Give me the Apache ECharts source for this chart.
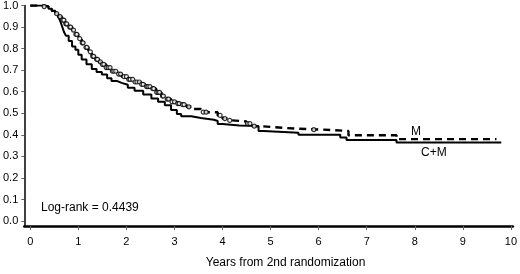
<!DOCTYPE html>
<html>
<head>
<meta charset="utf-8">
<script src="https://cdn.jsdelivr.net/npm/echarts@6/dist/echarts.min.js"></script>
<style>
html,body{margin:0;padding:0;background:#fff;}
#c{width:520px;height:274px;}
</style>
</head>
<body>
<div id="c"></div>
<script>
// Kaplan-Meier step data (time in years, survival proportion)
const mTimes  = [0, 0.29, 0.38, 0.45, 0.52, 0.58, 0.66, 0.72, 0.80, 0.87, 0.93, 1.00, 1.07, 1.14, 1.21, 1.28, 1.35, 1.42, 1.49, 1.58, 1.69, 1.80, 1.90, 2.03, 2.17, 2.30, 2.40, 2.52, 2.62, 2.73, 2.83, 2.93, 3.05, 3.14, 3.25, 3.38, 3.55, 3.90, 4.00, 4.10, 4.20, 4.50, 4.63, 4.80, 5.30, 5.58, 6.10, 6.62, 7.62, 9.70];
const mSurv   = [1.0, 0.995, 0.985, 0.975, 0.962, 0.948, 0.932, 0.915, 0.900, 0.886, 0.866, 0.846, 0.827, 0.806, 0.785, 0.764, 0.750, 0.738, 0.727, 0.712, 0.695, 0.682, 0.670, 0.657, 0.645, 0.634, 0.624, 0.614, 0.597, 0.580, 0.566, 0.553, 0.545, 0.540, 0.530, 0.520, 0.505, 0.490, 0.475, 0.467, 0.462, 0.452, 0.440, 0.432, 0.428, 0.424, 0.418, 0.398, 0.380, 0.380];
const cmTimes = [0, 0.29, 0.38, 0.45, 0.52, 0.58, 0.62, 0.66, 0.70, 0.74, 0.80, 0.87, 0.94, 1.00, 1.07, 1.17, 1.28, 1.38, 1.49, 1.60, 1.69, 1.80, 1.90, 2.03, 2.17, 2.35, 2.52, 2.66, 2.80, 2.93, 3.05, 3.14, 3.35, 3.55, 3.82, 3.90, 4.00, 4.35, 4.75, 4.85, 5.58, 6.45, 6.58, 7.62, 9.80];
const cmSurv  = [1.0, 0.995, 0.985, 0.975, 0.962, 0.948, 0.930, 0.905, 0.878, 0.860, 0.835, 0.810, 0.795, 0.772, 0.750, 0.727, 0.705, 0.692, 0.680, 0.663, 0.650, 0.641, 0.632, 0.618, 0.605, 0.587, 0.568, 0.553, 0.537, 0.515, 0.497, 0.486, 0.478, 0.470, 0.464, 0.450, 0.443, 0.441, 0.418, 0.410, 0.400, 0.388, 0.376, 0.364, 0.364];
// censoring times on arm M
const mCensor = [0.29, 0.55, 0.62, 0.68, 0.70, 0.74, 0.76, 0.82, 0.84, 0.90, 0.95, 0.97, 1.03, 1.08, 1.10, 1.16, 1.18, 1.25, 1.30, 1.32, 1.38, 1.40, 1.46, 1.50, 1.53, 1.58, 1.62, 1.66, 1.71, 1.74, 1.78, 1.84, 1.88, 1.95, 2.00, 2.05, 2.08, 2.13, 2.18, 2.22, 2.27, 2.32, 2.35, 2.42, 2.45, 2.49, 2.55, 2.57, 2.63, 2.66, 2.69, 2.75, 2.77, 2.85, 2.88, 2.95, 3.00, 3.07, 3.10, 3.17, 3.20, 3.30, 3.60, 3.66, 3.95, 4.05, 4.15, 4.52, 4.57, 4.66, 5.90];
const xTicks = [0, 1, 2, 3, 4, 5, 6, 7, 8, 9, 10];
const yTicks = [0, 0.1, 0.2, 0.3, 0.4, 0.5, 0.6, 0.7, 0.8, 0.9, 1.0];
const logRankText = 'Log-rank = 0.4439';

function pairs(ts, ss){ return ts.map((t,i)=>[t, ss[i]]); }
function survAt(ts, ss, t){ let v = ss[0]; for (let i=0;i<ts.length;i++){ if (ts[i] <= t) v = ss[i]; } return v; }

const chart = echarts.init(document.getElementById('c'), null, {renderer:'canvas'});
const FONT = 'Liberation Sans, Arial, sans-serif';
chart.setOption({
  animation:false,
  backgroundColor:'#fff',
  grid:{left:22, right:6, top:5, bottom:44},
  xAxis:{
    type:'value', min:-0.124, max:10.04,
    axisLine:{show:true, onZero:false, lineStyle:{color:'#000', width:2.5}},
    axisTick:{show:true, customValues:xTicks, length:4, lineStyle:{color:'#666', width:1}},
    axisLabel:{customValues:xTicks, color:'#000', fontSize:11, fontFamily:FONT, margin:10},
    splitLine:{show:false},
    name:'Years from 2nd randomization', nameLocation:'middle', nameGap:31,
    nameTextStyle:{color:'#000', fontSize:12, fontFamily:FONT, padding:[0,0,0,34]}
  },
  yAxis:{
    type:'value', min:-0.023, max:1.0,
    axisLine:{show:true, onZero:false, lineStyle:{color:'#000', width:1.5}},
    axisTick:{show:true, customValues:yTicks, length:3, lineStyle:{color:'#666', width:1}},
    axisLabel:{customValues:yTicks, color:'#000', fontSize:11, fontFamily:FONT, margin:6,
      formatter:v=>v.toFixed(1)},
    splitLine:{show:false}
  },
  series:[
    {type:'line', name:'C+M', step:'end', symbol:'none', data:pairs(cmTimes, cmSurv),
     lineStyle:{color:'#000', width:2}, z:2},
    {type:'line', name:'M', step:'end', symbol:'none', data:pairs(mTimes, mSurv),
     lineStyle:{color:'#000', width:2.4, type:[7,5]}, z:3},
    {type:'scatter', name:'M censored', symbol:'circle', symbolSize:4,
     data:mCensor.map(t=>[t, survAt(mTimes, mSurv, t)]),
     itemStyle:{color:'#fff', borderColor:'#000', borderWidth:1.2}, z:4}
  ],
  graphic:[
    {type:'text', left:41, top:202, style:{text:logRankText, fill:'#000', font:'12px '+FONT}},
    {type:'text', left:411, top:126, style:{text:'M', fill:'#000', font:'12px '+FONT}},
    {type:'text', left:421, top:147, style:{text:'C+M', fill:'#000', font:'12px '+FONT}}
  ]
});
</script>
</body>
</html>
